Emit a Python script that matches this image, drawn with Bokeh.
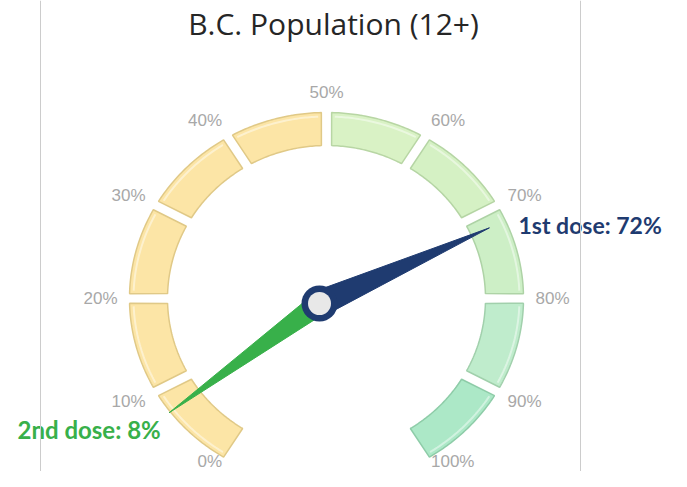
import numpy as np
from bokeh.plotting import figure
from bokeh.models import Range1d, Span, ColumnDataSource
from bokeh.core.properties import value
from bokeh.embed import file_html
from bokeh.resources import INLINE

# ---------------- data ----------------
TITLE = "B.C. Population (12+)"
SEG_START = [0, 10, 20, 30, 40, 50, 60, 70, 80, 90]
SEG_END = [10, 20, 30, 40, 50, 60, 70, 80, 90, 100]
SEG_COLORS = ["#fce5a6", "#fce5a6", "#fce5a6", "#fce5a6", "#fce5a6",
              "#d9f2c5", "#d5f1c4", "#cdefc6", "#bfeccc", "#ace8c7"]
SEG_EDGES = ["#e0c987", "#e0c987", "#e0c987", "#e0c987", "#e0c987",
             "#b8d6a4", "#b5d5a4", "#aed3a6", "#a1d0ac", "#8ecca8"]
TICK_VALUES = [0, 10, 20, 30, 40, 50, 60, 70, 80, 90, 100]
TICK_LABELS = ["0%", "10%", "20%", "30%", "40%", "50%", "60%", "70%", "80%", "90%", "100%"]
DOSE_NAMES = ["2nd dose", "1st dose"]
DOSE_VALUES = [8, 72]
DOSE_COLORS = ["#38b04a", "#1f3b70"]

# ---------------- geometry (page pixels) ----------------
W, H = 671, 471
CX, CY = 326, 298
R_OUT_X, R_OUT_Y = 197, 186
R_IN_X, R_IN_Y = 159, 153
HALF_GAP = 5
HUB_X, HUB_Y = 319, 303
NEEDLE_LEN = 186
NEEDLE_HALF_W = [11, 13]
LBL_RX, LBL_RY = 209, 206
LBL_MAX_Y = 461


def ang(p):
    return np.radians(240.0 - 3.0 * np.asarray(p, dtype=float))


seg_xs, seg_ys, hl_xs, hl_ys = [], [], [], []
g_out = HALF_GAP / ((R_OUT_X + R_OUT_Y) / 2)
g_in = HALF_GAP / ((R_IN_X + R_IN_Y) / 2)
for s, e in zip(SEG_START, SEG_END):
    a_out = np.linspace(ang(s) - g_out, ang(e) + g_out, 40)
    a_in = np.linspace(ang(e) + g_in, ang(s) - g_in, 40)
    seg_xs.append(list(np.concatenate([CX + R_OUT_X * np.cos(a_out), CX + R_IN_X * np.cos(a_in)])))
    seg_ys.append(list(np.concatenate([CY - R_OUT_Y * np.sin(a_out), CY - R_IN_Y * np.sin(a_in)])))
    g = (HALF_GAP + 3) / R_OUT_Y
    a = np.linspace(ang(s) - g, ang(e) + g, 40)
    hl_xs.append(list(CX + (R_OUT_X - 4) * np.cos(a)))
    hl_ys.append(list(CY - (R_OUT_Y - 4) * np.sin(a)))

p = figure(width=W, height=H, output_backend="svg", toolbar_location=None,
           x_range=Range1d(0, W), y_range=Range1d(H, 0),
           min_border=0, background_fill_color="white", border_fill_color="white")
p.axis.visible = False
p.grid.visible = False
p.outline_line_color = None

for loc in (40, 580):
    p.add_layout(Span(location=loc, dimension="height", line_color="#cccccc", line_width=1))

# segments
p.patches(seg_xs, seg_ys, fill_color=SEG_COLORS, line_color=SEG_EDGES, line_width=1.5)
p.multi_line(hl_xs, hl_ys, line_color="white", line_alpha=0.45, line_width=2)

# tick labels
la = ang(TICK_VALUES)
cosv = np.cos(la)
aligns = ["right" if c < -0.01 else ("left" if c > 0.01 else "center") for c in cosv]
lsrc = ColumnDataSource(dict(x=CX + LBL_RX * cosv,
                             y=np.minimum(CY - LBL_RY * np.sin(la), LBL_MAX_Y),
                             t=TICK_LABELS, al=aligns))
p.text("x", "y", text="t", source=lsrc, text_align="al", text_baseline="middle",
       text_font=value("Liberation Sans"), text_font_size="17px", text_color="#a8a8a8")

# needles
for v, c, hw in zip(DOSE_VALUES, DOSE_COLORS, NEEDLE_HALF_W):
    a = float(ang(v))
    tx, ty = HUB_X + NEEDLE_LEN * np.cos(a), HUB_Y - NEEDLE_LEN * np.sin(a)
    px, py = -np.sin(a), -np.cos(a)
    p.patch([HUB_X + hw * px, tx, HUB_X - hw * px], [HUB_Y + hw * py, ty, HUB_Y - hw * py],
            fill_color=c, line_color=c, line_width=1)

p.scatter([HUB_X], [HUB_Y], size=36, fill_color=DOSE_COLORS[1], line_color=None)
p.scatter([HUB_X], [HUB_Y], size=23, fill_color="#e8e8e8", line_color=None)

# dose labels
p.text([17], [429], text=[f"{DOSE_NAMES[0]}: {DOSE_VALUES[0]}%"], text_align="left",
       text_baseline="middle", text_font=value("Lato"), text_font_style="bold",
       text_font_size="24px", text_color=DOSE_COLORS[0])
p.text([518], [224], text=[f"{DOSE_NAMES[1]}: {DOSE_VALUES[1]}%"], text_align="left",
       text_baseline="middle", text_font=value("Lato"), text_font_style="bold",
       text_font_size="23px", text_color=DOSE_COLORS[1])

# title
p.text([333], [23], text=[TITLE], text_align="center", text_baseline="middle",
       text_font=value("Open Sans"), text_font_size="30px", text_color="#262626")

open("out.html", "w").write(file_html(p, INLINE))
